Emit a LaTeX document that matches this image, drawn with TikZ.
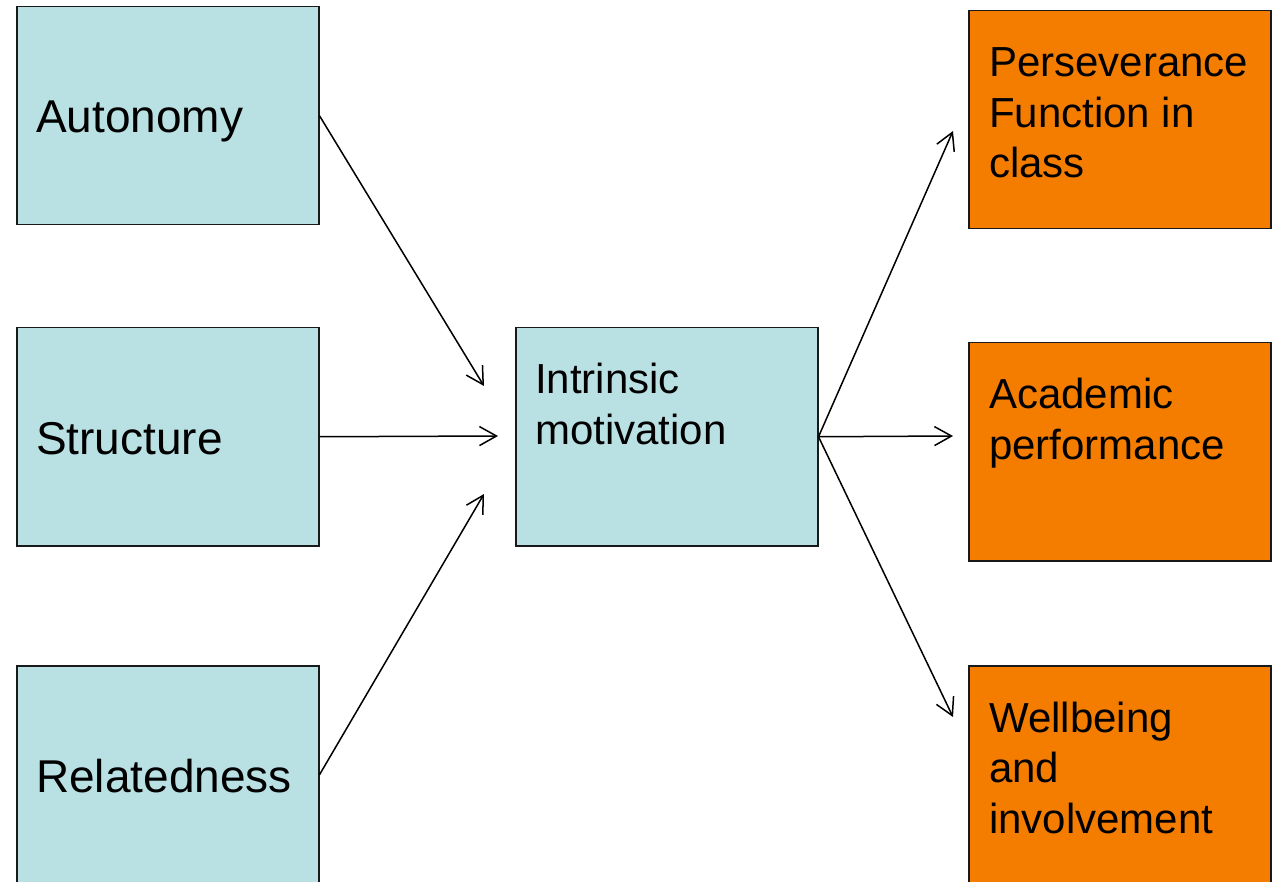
\documentclass[tikz,border=0pt]{standalone}
\usepackage{fontspec}
\setmainfont{Liberation Sans}
\usetikzlibrary{arrows.meta}
\definecolor{needblue}{HTML}{B9E0E3}
\definecolor{outorange}{HTML}{F47D00}
\begin{document}
\begin{tikzpicture}[x=1pt,y=-1pt,
  box/.style={draw=black!90, line width=1.5pt, minimum width=302pt,
              minimum height=218pt, inner sep=0pt, anchor=north west},
  need/.style={box, fill=needblue},
  outcome/.style={box, fill=outorange},
  bigtxt/.style={anchor=base west, inner sep=0pt, font=\fontsize{46}{55}\selectfont},
  txt/.style={anchor=base west, inner sep=0pt, font=\fontsize{42}{50.5}\selectfont},
  flow/.style={line width=1.5pt,
               -{Straight Barb[length=17pt,width=19pt,line width=1.5pt]}}]
\useasboundingbox (0,0) rectangle (1272,882);

% basic needs
\node[need] (auto) at (16,6) {};
\node[need] (struc) at (16,327) {};
\node[need] (relat) at (16,665) {};
\node[bigtxt] (autoT) at (36,133) {Autonomy};
\node[bigtxt] (strucT) at (36,454) {Structure};
\node[bigtxt] (relatT) at (36,792) {Relatedness};

% mediator
\node[need] (intr) at (515,327) {};
\node[txt] (intrT) at (535,394) {\begin{tabular}[t]{@{}l@{}}Intrinsic\\motivation\end{tabular}};

% outcomes
\node[outcome] (pers) at (968,10) {};
\node[outcome] (acad) at (968,342) {};
\node[outcome] (well) at (968,665) {};
\node[txt] (persT) at (989,77) {\begin{tabular}[t]{@{}l@{}}Perseverance\\Function in\\class\end{tabular}};
\node[txt] (acadT) at (989,409) {\begin{tabular}[t]{@{}l@{}}Academic\\performance\end{tabular}};
\node[txt] (wellT) at (989,732) {\begin{tabular}[t]{@{}l@{}}Wellbeing\\and\\involvement\end{tabular}};

% arrow ends
\coordinate (inA) at (484,386);
\coordinate (inS) at (498,436);
\coordinate (inR) at (484,494);
\coordinate (toP) at (953,131);
\coordinate (toA) at (953,436);
\coordinate (toW) at (953,717);

\draw[flow] (auto.east) -- (inA);
\draw[flow] (struc.east) -- (inS);
\draw[flow] (relat.east) -- (inR);
\draw[flow] (intr.east) -- (toP);
\draw[flow] (intr.east) -- (toA);
\draw[flow] (intr.east) -- (toW);
\end{tikzpicture}
\end{document}
